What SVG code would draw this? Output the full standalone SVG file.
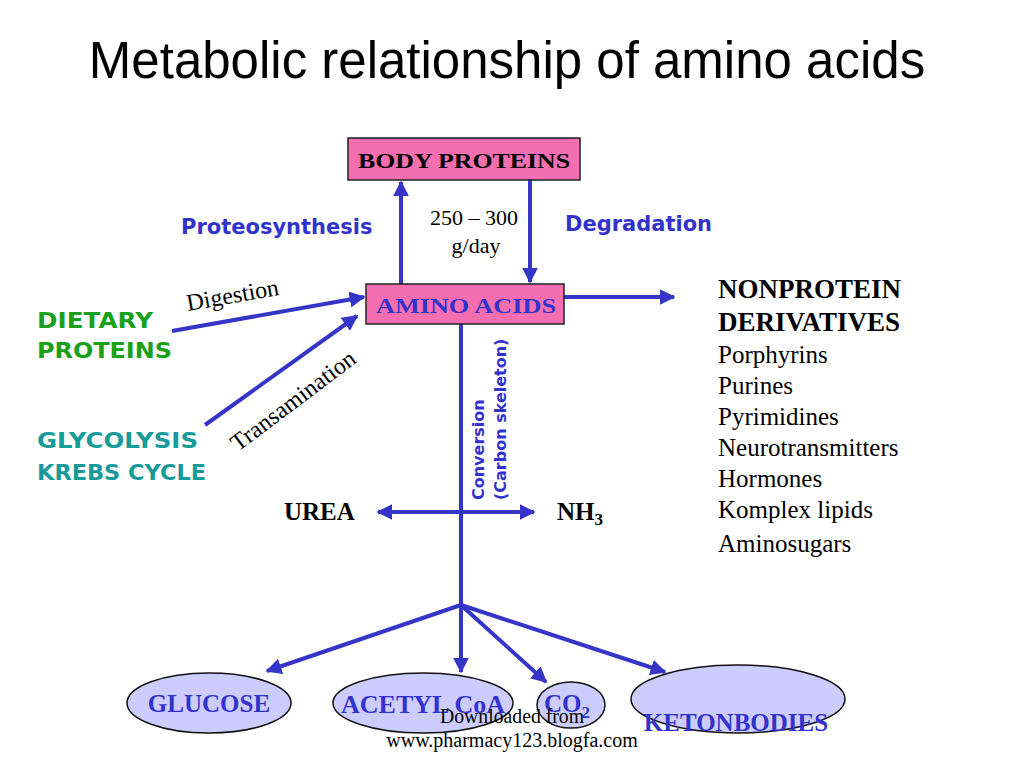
<svg xmlns="http://www.w3.org/2000/svg" width="1024" height="768" viewBox="0 0 1024 768">
<defs>
<marker id="ah" viewBox="0 0 10 10" refX="9" refY="5" markerWidth="4" markerHeight="4" orient="auto-start-reverse" markerUnits="strokeWidth">
<path d="M0,0 L10,5 L0,10 z" fill="#3535c8"/>
</marker>
<style>
.ln{stroke:#3535c8;stroke-width:4;fill:none}
.box{fill:#f56eb0;stroke:#222;stroke-width:1.5}
.ell{fill:#ccccff;stroke:#111;stroke-width:1.5}
.tb{font-family:"Liberation Serif",serif;font-weight:bold}
.tr{font-family:"Liberation Serif",serif}
.cm{font-family:"DejaVu Sans",sans-serif;font-weight:bold}
.blue{fill:#3333cc}
</style>
</defs>
<rect width="1024" height="768" fill="#fff"/>
<text x="507" y="78" text-anchor="middle" font-family="Liberation Sans, sans-serif" font-size="51">Metabolic relationship of amino acids</text>

<g id="connectors">
<line class="ln" x1="401" y1="284" x2="401" y2="182" marker-end="url(#ah)"/>
<line class="ln" x1="530" y1="180" x2="530" y2="282" marker-end="url(#ah)"/>
<line class="ln" x1="564" y1="297" x2="674" y2="297" marker-end="url(#ah)"/>
<line class="ln" x1="172" y1="331" x2="364" y2="297" marker-end="url(#ah)"/>
<line class="ln" x1="205" y1="425" x2="357" y2="316" marker-end="url(#ah)"/>
<line class="ln" x1="461" y1="324" x2="461" y2="605"/>
<line class="ln" x1="378" y1="512" x2="534" y2="512" marker-start="url(#ah)" marker-end="url(#ah)"/>
<line class="ln" x1="461" y1="605" x2="267" y2="671" marker-end="url(#ah)"/>
<line class="ln" x1="461" y1="605" x2="461" y2="672" marker-end="url(#ah)"/>
<line class="ln" x1="461" y1="605" x2="546" y2="682" marker-end="url(#ah)"/>
<line class="ln" x1="461" y1="605" x2="665" y2="672" marker-end="url(#ah)"/>
</g>

<g id="body-proteins">
<rect class="box" x="348" y="138" width="232" height="42"/>
<text class="tb" x="464" y="168" text-anchor="middle" font-size="20" textLength="212" lengthAdjust="spacingAndGlyphs">BODY PROTEINS</text>
</g>
<g id="amino-acids">
<rect class="box" x="366" y="284" width="198" height="40"/>
<text class="tb blue" x="466" y="313" text-anchor="middle" font-size="20" textLength="180" lengthAdjust="spacingAndGlyphs">AMINO ACIDS</text>
</g>

<g id="labels">
<text class="tr" x="474" y="225" text-anchor="middle" font-size="22">250 – 300</text>
<text class="tr" x="476" y="253" text-anchor="middle" font-size="22">g/day</text>
<text class="cm blue" x="181" y="234" font-size="21">Proteosynthesis</text>
<text class="cm blue" x="565" y="231" font-size="21">Degradation</text>
<text class="tr" x="188" y="311" font-size="24" transform="rotate(-10 188 311)">Digestion</text>
<text class="tr" x="238" y="452" font-size="24" transform="rotate(-37 238 452)">Transamination</text>
<text class="cm blue" font-size="16" transform="translate(484 500) rotate(-90)">Conversion</text>
<text class="cm blue" font-size="16" transform="translate(506 500) rotate(-90)">(Carbon skeleton)</text>
<text class="tb" x="284" y="520" font-size="25">UREA</text>
<text class="tb" x="557" y="520" font-size="25">NH<tspan font-size="17" dy="5">3</tspan></text>
</g>

<g id="dietary-proteins">
<text class="cm" fill="#1aa01a" x="37" y="328" font-size="21" textLength="116" lengthAdjust="spacingAndGlyphs">DIETARY</text>
<text class="cm" fill="#1aa01a" x="37" y="358" font-size="21" textLength="135" lengthAdjust="spacingAndGlyphs">PROTEINS</text>
</g>
<g id="glycolysis">
<text class="cm" fill="#179a9a" x="37" y="448" font-size="21" textLength="161" lengthAdjust="spacingAndGlyphs">GLYCOLYSIS</text>
<text class="cm" fill="#179a9a" x="37" y="480" font-size="21" textLength="169" lengthAdjust="spacingAndGlyphs">KREBS CYCLE</text>
</g>

<g id="nonprotein">
<text class="tb" x="718" y="298" font-size="27">NONPROTEIN</text>
<text class="tb" x="718" y="331" font-size="27">DERIVATIVES</text>
<text class="tr" x="718" y="363" font-size="25">Porphyrins</text>
<text class="tr" x="718" y="394" font-size="25">Purines</text>
<text class="tr" x="718" y="425" font-size="25">Pyrimidines</text>
<text class="tr" x="718" y="456" font-size="25">Neurotransmitters</text>
<text class="tr" x="718" y="487" font-size="25">Hormones</text>
<text class="tr" x="718" y="518" font-size="25">Komplex lipids</text>
<text class="tr" x="718" y="552" font-size="25">Aminosugars</text>
</g>

<g id="glucose">
<ellipse class="ell" cx="209" cy="703" rx="82" ry="30"/>
<text class="tb blue" x="209" y="712" text-anchor="middle" font-size="25">GLUCOSE</text>
</g>
<g id="acetyl-coa">
<ellipse class="ell" cx="423" cy="703" rx="90" ry="30"/>
<text class="tb blue" x="423" y="713" text-anchor="middle" font-size="26">ACETYL CoA</text>
</g>
<g id="co2">
<ellipse class="ell" cx="571" cy="705" rx="34" ry="23"/>
<text class="tb blue" x="567" y="712" text-anchor="middle" font-size="25">CO<tspan font-size="17" dy="6">2</tspan></text>
</g>
<g id="ketonbodies">
<ellipse class="ell" cx="738" cy="699" rx="107" ry="34"/>
<text class="tb blue" x="736" y="731" text-anchor="middle" font-size="25">KETONBODIES</text>
</g>

<g id="footer">
<text class="tr" x="512" y="723" text-anchor="middle" font-size="20" textLength="144" lengthAdjust="spacingAndGlyphs">Downloaded from</text>
<text class="tr" x="512" y="747" text-anchor="middle" font-size="20">www.pharmacy123.blogfa.com</text>
</g>
</svg>
